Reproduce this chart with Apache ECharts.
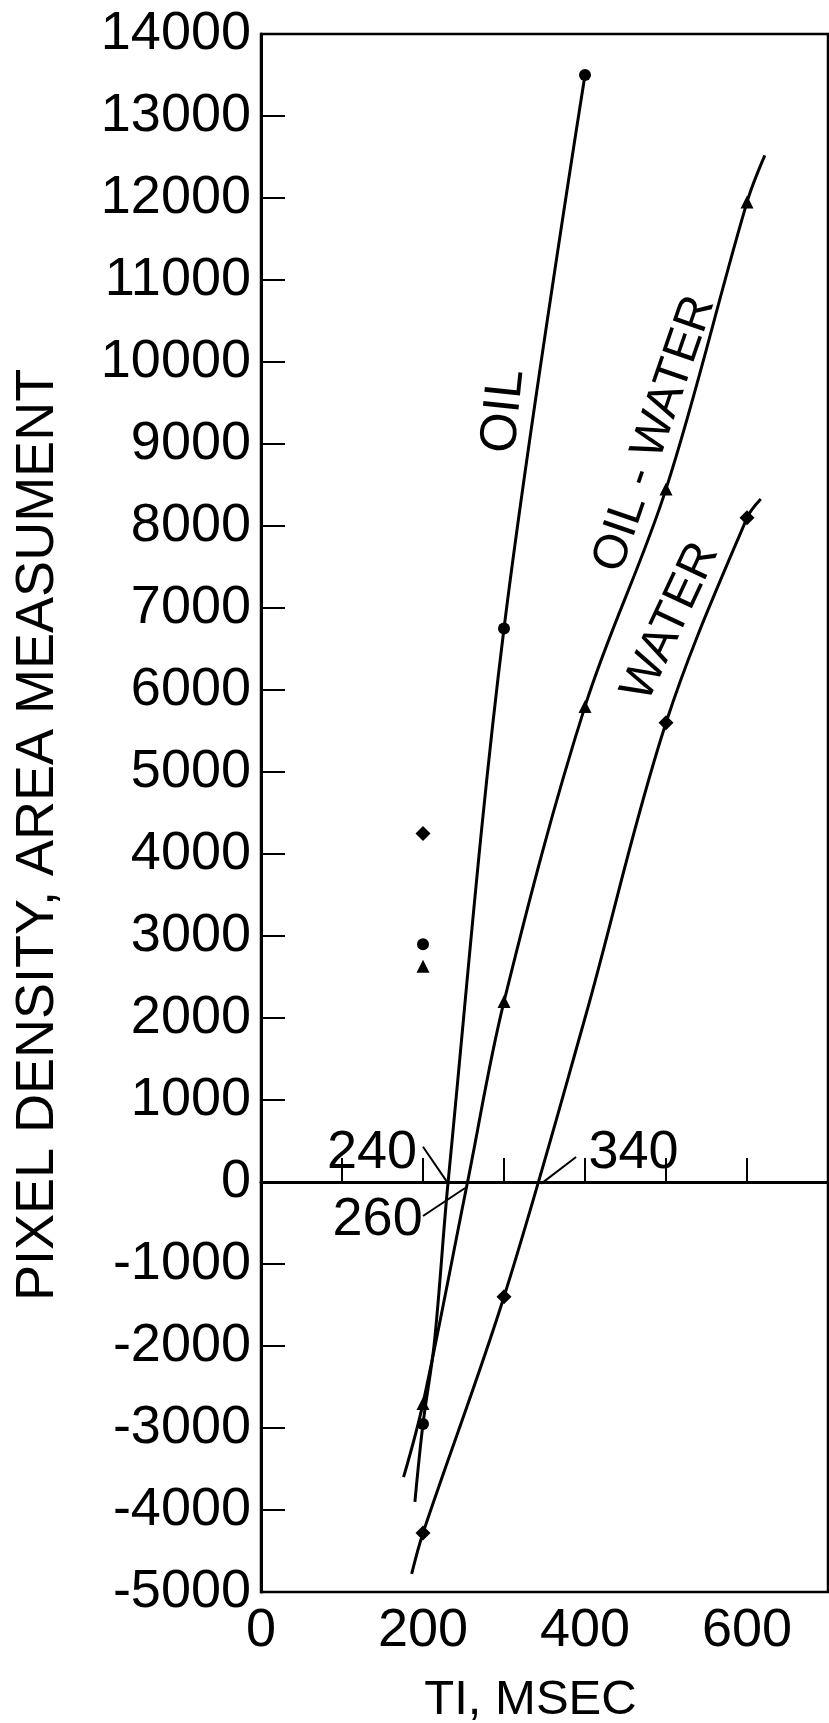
<!DOCTYPE html>
<html><head><meta charset="utf-8">
<script src="https://cdn.jsdelivr.net/npm/echarts@6/dist/echarts.min.js"></script>
<style>html,body{margin:0;padding:0;background:#fff}#c{width:829px;height:1723px}</style>
</head><body><div id="c"></div>
<script>
// ---- data ----
const xLabelsShown = [0, 200, 400, 600];
// measured points (markers)
const oilPoints = [[200, -2950], [300, 6750], [400, 13500], [200, 2900]];
const oilWaterPoints = [[200, -2700], [300, 2200], [400, 5800], [500, 8450], [600, 11950], [200, 2630]];
const waterPoints = [[200, -4280], [300, -1400], [500, 5600], [600, 8100], [200, 4250]];
// hand-drawn fitted curves (traced)
const oilCurve = [[190, -3900], [200, -2950], [214, -1960], [231, 0], [300, 6750], [400, 13500]];
const oilWaterCurve = [[176, -3600], [200, -2700], [255, 0], [300, 2200], [400, 5800], [500, 8450], [600, 11950], [622, 12520]];
const waterCurve = [[186, -4780], [200, -4280], [300, -1400], [400, 2000], [500, 5600], [600, 8100], [617, 8330]];
// curve names placed along the curves
const curveNames = ['OIL', 'OIL - WATER', 'WATER'];
const curveNameAt = [[300, 9400], [486, 9120], [506, 6830]];
// zero-crossing annotations
const crossTexts = ['240', '260', '340'];
const crossTextAt = [[137, 354], [144, -463], [460, 354]];
const arrowFrom = [[200, 430], [200, -415], [389, 305]];
const arrowTo = [[229, 10], [252, -73], [346, -20]];

// ---- styling ----
const FONT = 'Liberation Sans';
const black = '#000';
const nameRot = [84, 71, 65];

const chart = echarts.init(document.getElementById('c'), null, {renderer: 'canvas'});
const lineSeries = (data) => ({
  type: 'line', data: data, smooth: 0.35, showSymbol: false, silent: true,
  lineStyle: {color: black, width: 3}, z: 3
});
const option = {
  animation: false,
  backgroundColor: '#fff',
  grid: {left: 261, right: 1, top: 34, bottom: 131, show: true, borderColor: black, borderWidth: 2.5,
    containLabel: false, outerBoundsMode: 'none'},
  xAxis: {
    type: 'value', min: 0, max: 700, interval: 100,
    axisLine: {show: true, lineStyle: {color: black, width: 3}},
    axisTick: {show: true, inside: true, length: 24, lineStyle: {color: black, width: 2}},
    splitLine: {show: false},
    axisLabel: {
      formatter: v => xLabelsShown.indexOf(v) >= 0 ? String(v) : '',
      fontSize: 54, fontFamily: FONT, color: black, margin: 12
    },
    name: 'TI, MSEC', nameLocation: 'middle', nameGap: 84,
    nameTextStyle: {fontSize: 49, fontFamily: FONT, color: black, padding: [0, 28, 0, 0]}
  },
  yAxis: {
    type: 'value', min: -5000, max: 14000, interval: 1000,
    axisLine: {show: true, lineStyle: {color: black, width: 3}},
    axisTick: {show: true, inside: true, length: 24, lineStyle: {color: black, width: 2}},
    splitLine: {show: false},
    axisLabel: {formatter: v => String(v), fontSize: 54, fontFamily: FONT, color: black, margin: 10},
    name: 'PIXEL DENSITY, AREA MEASUMENT', nameLocation: 'middle', nameGap: 196,
    nameTextStyle: {fontSize: 54, fontFamily: FONT, color: black, padding: [0, 44, 0, 0]}
  },
  series: [
    Object.assign(lineSeries(oilCurve), {
      markLine: {
        silent: true, symbol: 'none', label: {show: false},
        lineStyle: {color: black, width: 3, type: 'solid'},
        data: [{yAxis: 0}]
      }
    }),
    lineSeries(oilWaterCurve),
    lineSeries(waterCurve),
    {type: 'scatter', data: oilPoints, symbol: 'circle', symbolSize: 12, itemStyle: {color: black, opacity: 1}, z: 4},
    {type: 'scatter', data: oilWaterPoints, symbol: 'triangle', symbolSize: 13, itemStyle: {color: black, opacity: 1}, z: 4},
    {type: 'scatter', data: waterPoints, symbol: 'diamond', symbolSize: 15, itemStyle: {color: black, opacity: 1}, z: 4},
    {
      type: 'scatter', symbolSize: 0, silent: true, z: 5, itemStyle: {color: black, opacity: 1},
      data: curveNames.map((n, i) => ({
        name: n, value: curveNameAt[i],
        label: {show: true, position: 'inside', formatter: '{b}', rotate: nameRot[i],
          fontSize: i === 0 ? 52 : 48, fontFamily: FONT, color: black, textBorderWidth: 0, opacity: 1}
      }))
    },
    {
      type: 'scatter', symbolSize: 0, silent: true, z: 5, itemStyle: {color: black, opacity: 1},
      data: crossTexts.map((t, i) => ({
        name: t, value: crossTextAt[i],
        label: {show: true, position: 'inside', formatter: '{b}', fontSize: 54, fontFamily: FONT, color: black, textBorderWidth: 0, opacity: 1}
      })),
      markLine: {
        silent: true, symbol: ['none', 'arrow'], symbolSize: [0, 12], label: {show: false},
        lineStyle: {color: black, width: 2, type: 'solid', curveness: 0.12},
        data: arrowFrom.map((f, i) => [{coord: f}, {coord: arrowTo[i]}])
      }
    }
  ]
};
chart.setOption(option);
</script>
</body></html>
